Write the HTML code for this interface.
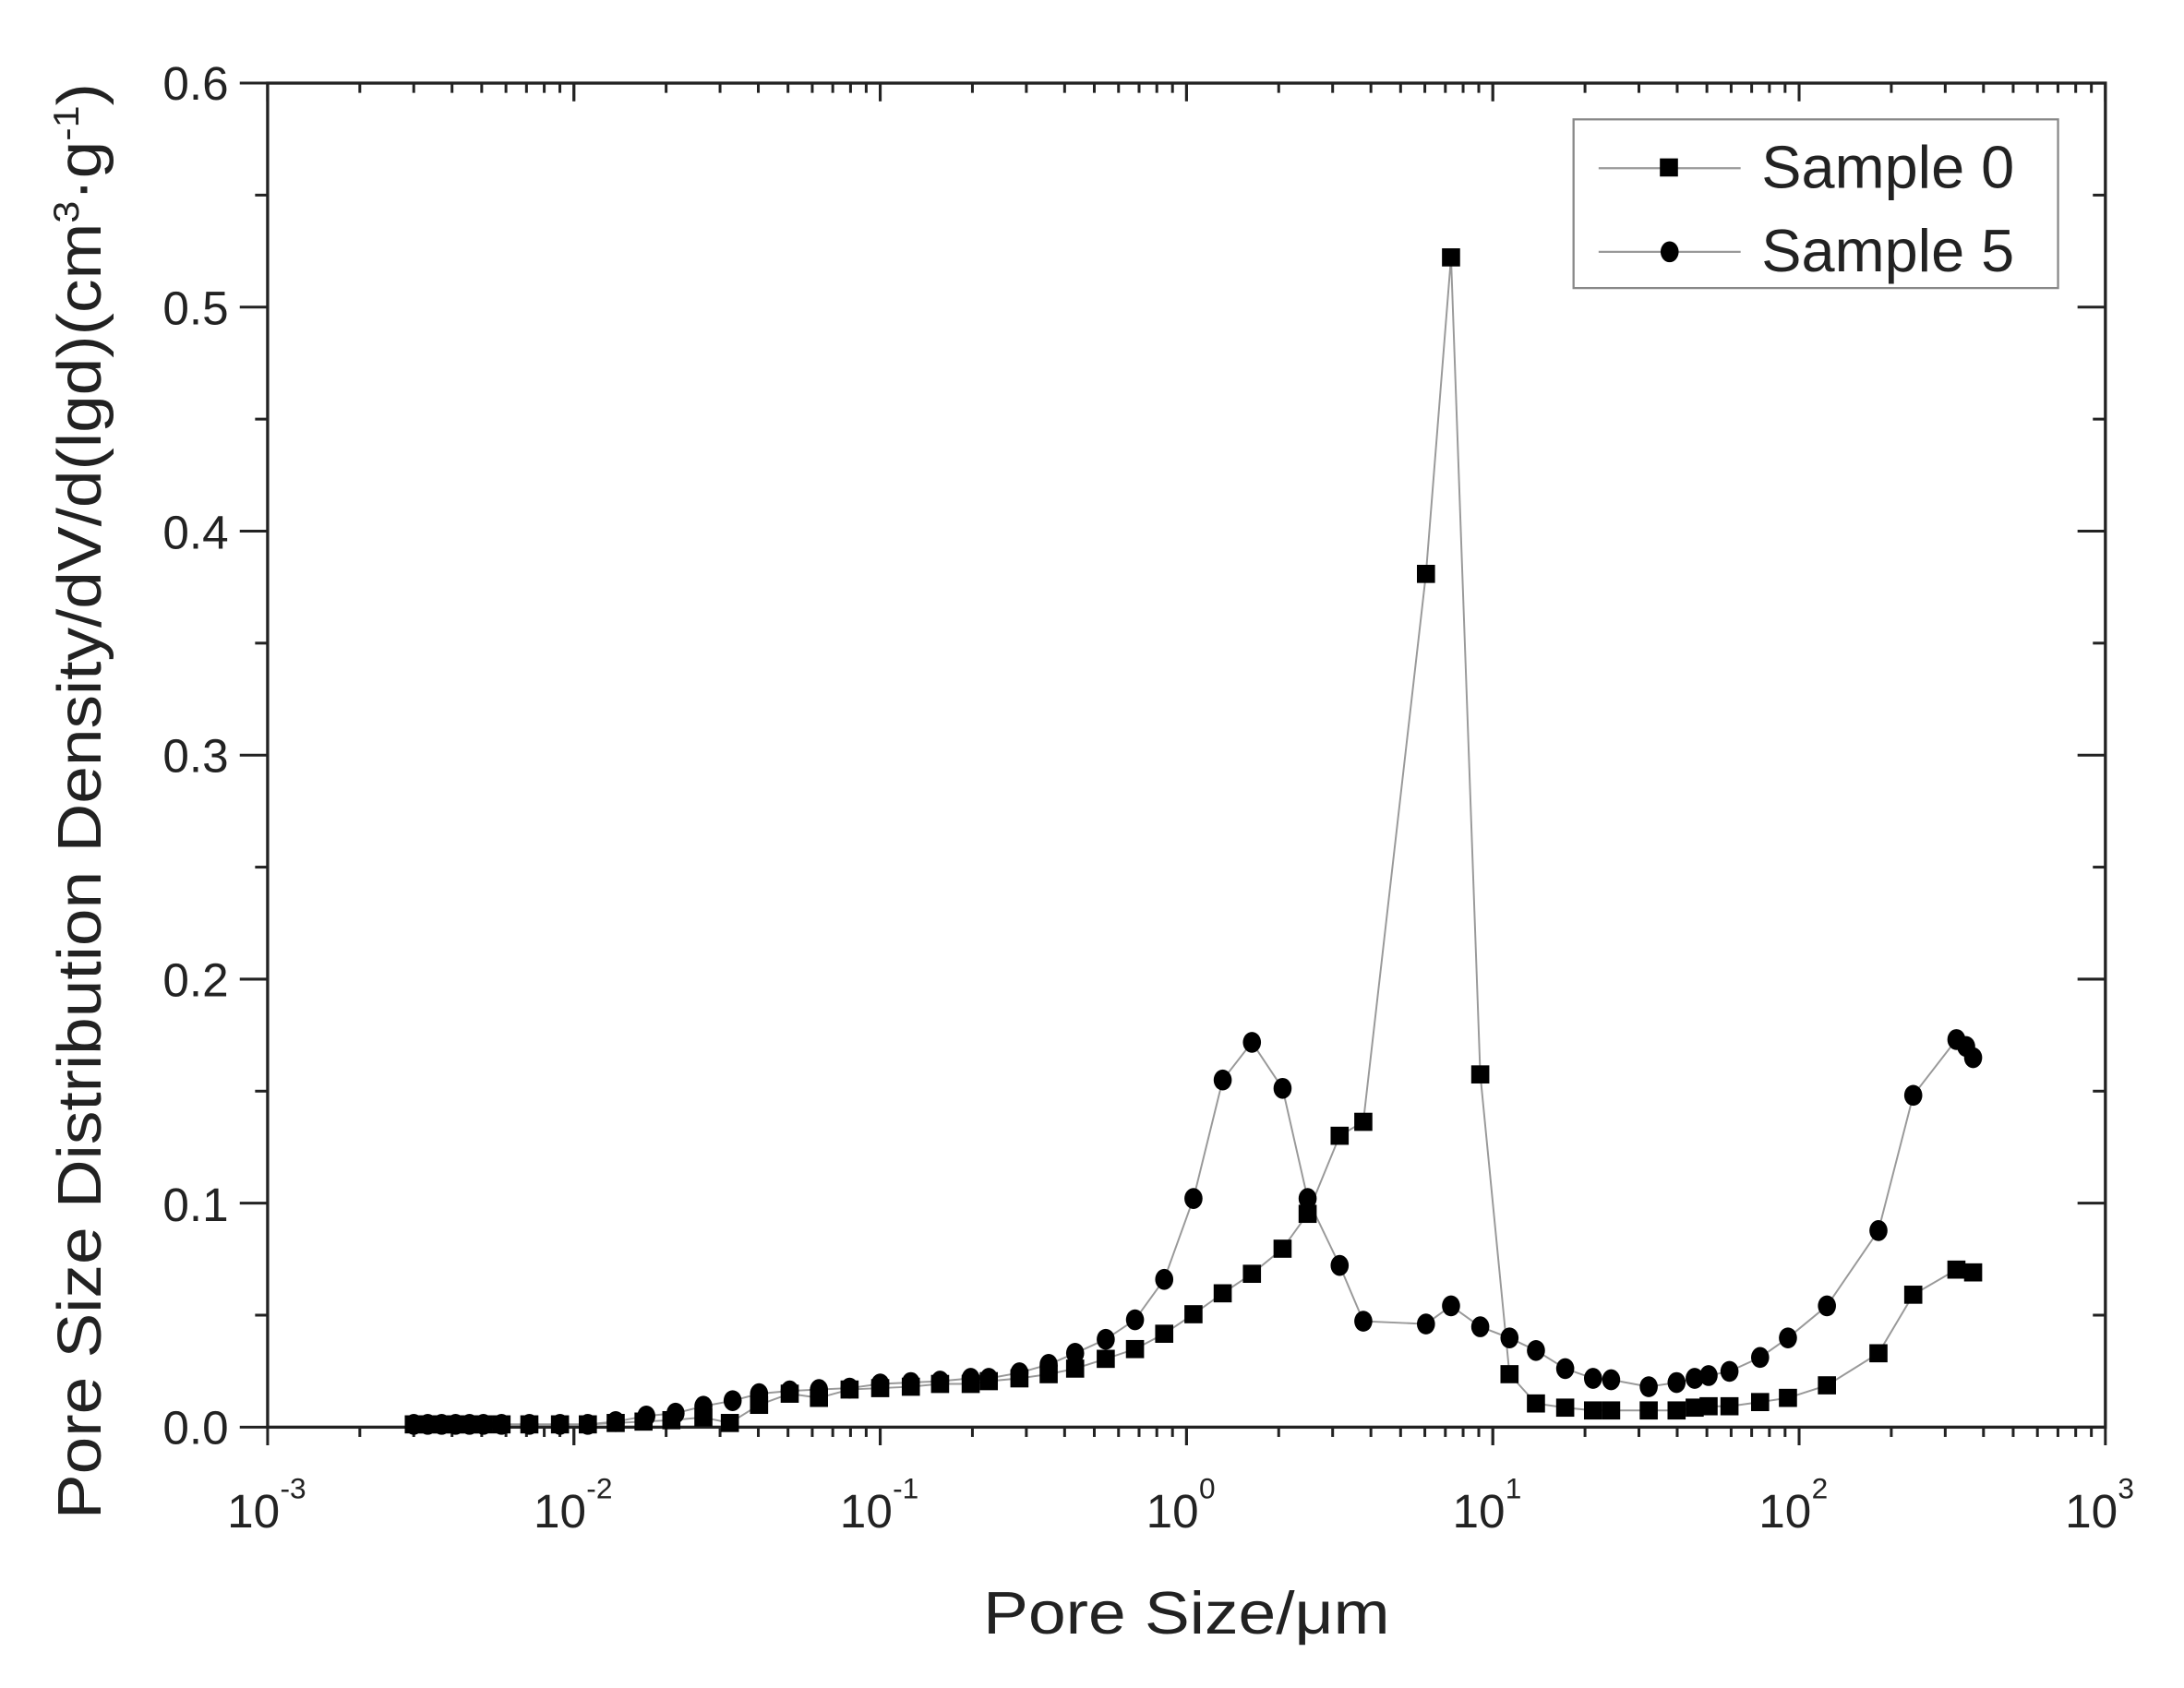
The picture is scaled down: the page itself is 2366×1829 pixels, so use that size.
<!DOCTYPE html>
<html><head><meta charset="utf-8"><style>html,body{margin:0;padding:0;background:#fff}svg{display:block}</style></head>
<body>
<svg width="2366" height="1829" viewBox="0 0 1553 1200.5" xmlns="http://www.w3.org/2000/svg" font-family="Liberation Sans, Arial, sans-serif">
<rect width="1553" height="1200.5" fill="#fff"/>
<g transform="translate(2.2,-0.4) scale(0.99,0.9916)">
<g id="ticks" stroke="#222" stroke-width="2"></g>
<rect x="190" y="60" width="1320" height="964" fill="none" stroke="#222" stroke-width="2.2"/>
<g id="lines" fill="none" stroke="#999" stroke-width="1.3"></g>
<g id="marks" fill="#000"></g>
<g font-size="34" fill="#222" text-anchor="end">
<text x="162" y="72">0.6</text><text x="162" y="233">0.5</text><text x="162" y="394">0.4</text>
<text x="162" y="554">0.3</text><text x="162" y="715">0.2</text><text x="162" y="876">0.1</text><text x="162" y="1036">0.0</text>
</g>
<g id="xl" font-size="34" fill="#222"></g>
<text x="850" y="1172" font-size="43" fill="#222" text-anchor="middle" textLength="292" lengthAdjust="spacingAndGlyphs">Pore Size/μm</text>
<text transform="translate(70,575) rotate(-90)" font-size="44" fill="#222" text-anchor="middle" textLength="1030" lengthAdjust="spacingAndGlyphs">Pore Size Distribution Density/dV/d(lgd)(cm<tspan font-size="26" dy="-16">3</tspan><tspan dy="16">·g</tspan><tspan font-size="26" dy="-16">-1</tspan><tspan dy="16">)</tspan></text>
<rect x="1128" y="86" width="348" height="121" fill="#fff" stroke="#888" stroke-width="1.5"/>
<line x1="1146" y1="121" x2="1248" y2="121" stroke="#999" stroke-width="1.5"/>
<rect x="1190" y="114" width="13" height="13" fill="#000"/>
<line x1="1146" y1="181" x2="1248" y2="181" stroke="#999" stroke-width="1.5"/>
<ellipse cx="1197" cy="181" rx="6.5" ry="7.5" fill="#000"/>
<text x="1263" y="135" font-size="43" fill="#222">Sample 0</text>
<text x="1263" y="195" font-size="43" fill="#222">Sample 5</text>
</g>
<script>
var NS="http://www.w3.org/2000/svg";
function el(p,t,a){var e=document.createElementNS(NS,t);for(var k in a)e.setAttribute(k,a[k]);p.appendChild(e);return e;}
var T=document.getElementById("ticks");
var X0=190,X1=1510,D=220,Y0=1024,Y1=60;
for(var d=0;d<6;d++){for(var m=1;m<=10;m++){var x=X0+d*D+Math.log10(m)*D;var L=(m==1||m==10)?13:7;
el(T,"line",{x1:x,y1:Y0,x2:x,y2:Y0+L});el(T,"line",{x1:x,y1:Y1,x2:x,y2:Y1+L});}}
for(var i=0;i<=12;i++){var y=Y0-i*(Y0-Y1)/12;var L=(i%2==0)?20:9;
el(T,"line",{x1:X0-L,y1:y,x2:X0,y2:y});el(T,"line",{x1:X1-L,y1:y,x2:X1,y2:y});}
var XL=document.getElementById("xl");
for(var d=0;d<=6;d++){var t=el(XL,"text",{x:X0+d*D-29,y:1096});t.textContent="10";
var s=el(XL,"text",{x:X0+d*D+9,y:1075,"font-size":"21"});s.textContent=String(d-3);}
var s0=[[295,1022],[305,1022],[315,1022],[325,1022],[335,1022],[345,1022],[358,1022],[378,1022],[400,1022],[420,1022],[440,1021],[460,1020],[480,1019],[503,1017],[522,1021],[543,1008],[565,1000],[586,1003],[608,997],[630,996],[652,995],[673,993],[695,993],[708,991],[730,989],[751,986],[770,982],[792,975],[813,968],[834,957],[855,943],[876,928],[897,914],[919,896],[937,871],[960,815],[977,805],[1022,412],[1040,185],[1061,771],[1082,986],[1101,1007],[1122,1010],[1142,1012],[1155,1012],[1182,1012],[1202,1012],[1215,1010],[1225,1009],[1240,1009],[1262,1006],[1282,1003],[1310,994],[1347,971],[1372,929],[1403,911],[1415,913]];
var s5=[[295,1022],[305,1022],[315,1022],[325,1022],[335,1022],[345,1022],[358,1022],[378,1022],[400,1022],[420,1022],[440,1020],[462,1016],[483,1014],[503,1009],[524,1005],[543,1000],[565,998],[586,997],[608,996],[630,993],[652,992],[673,991],[695,989],[708,989],[730,985],[751,979],[770,971],[792,961],[813,947],[834,918],[855,860],[876,775],[897,748],[919,781],[937,860],[960,908],[977,948],[1022,950],[1040,937],[1061,952],[1082,960],[1101,969],[1122,982],[1142,989],[1155,990],[1182,995],[1202,992],[1215,989],[1225,987],[1240,984],[1262,974],[1282,960],[1310,937],[1347,883],[1372,786],[1403,746],[1410,751],[1415,759]];
var Lg=document.getElementById("lines"),M=document.getElementById("marks");
el(Lg,"polyline",{points:s0.map(p=>p.join(",")).join(" ")});
el(Lg,"polyline",{points:s5.map(p=>p.join(",")).join(" ")});
s0.forEach(p=>el(M,"rect",{x:p[0]-6.5,y:p[1]-6.5,width:13,height:13}));
s5.forEach(p=>el(M,"ellipse",{cx:p[0],cy:p[1],rx:6.5,ry:7.5}));
</script>
</svg>
</body></html>
